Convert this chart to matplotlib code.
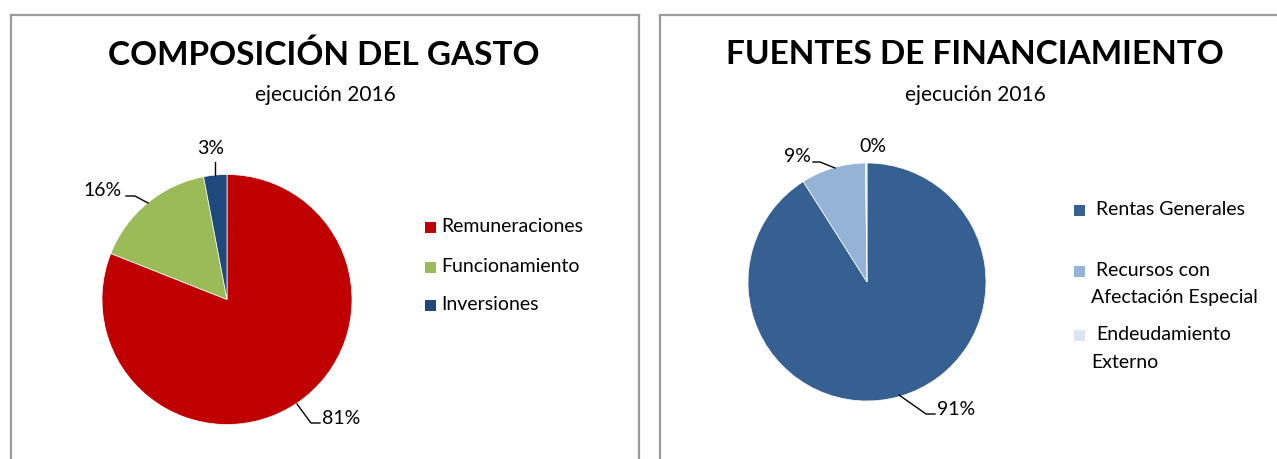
import matplotlib
matplotlib.use("Agg")
import matplotlib.pyplot as plt
from matplotlib.patches import Rectangle
from matplotlib.lines import Line2D

plt.rcParams['font.family'] = ['Lato', 'DejaVu Sans']

# ---- data ----
gasto_labels = ["Remuneraciones", "Funcionamiento", "Inversiones"]
gasto_values = [81, 16, 3]
gasto_colors = ["#C00000", "#9BBB59", "#1F497D"]

fuentes_labels = ["Rentas Generales", "Recursos con\nAfectación Especial", "Endeudamiento\nExterno"]
fuentes_values = [91, 8.8, 0.2]
fuentes_pct = ["91%", "9%", "0%"]
fuentes_colors = ["#376092", "#95B3D7", "#DCE6F2"]

titles = ["COMPOSICIÓN DEL GASTO", "FUENTES DE FINANCIAMIENTO"]
subtitle = "ejecución 2016"

W, H = 1277, 459
fig = plt.figure(figsize=(W / 100, H / 100), dpi=100)


def fx(px):
    return px / W


def fy(py):
    return 1 - py / H


# panel borders
for (x0, x1) in [(10.5, 638.5), (659.5, 1290)]:
    for xs, ys in [([x0, x0], [H + 5, 14.5]), ([x0, x1], [14.5, 14.5]), ([x1, x1], [14.5, H + 5])]:
        fig.add_artist(Line2D([fx(v) for v in xs], [fy(v) for v in ys], color="#9a9a9a", lw=1.6))


def pie_axes(cx, cy, r):
    ax = fig.add_axes([fx(cx - r), fy(cy + r), 2 * r / W, 2 * r / H])
    ax.set_xlim(-1, 1)
    ax.set_ylim(-1, 1)
    ax.set_aspect("auto")
    ax.axis("off")
    return ax


def to_data(px, py, cx, cy, r):
    return (px - cx) / r, (cy - py) / r


LBL = 14

# ---- left pie ----
cx1, cy1, r1 = 227, 299.5, 125
ax1 = pie_axes(cx1, cy1, r1)
ax1.pie(gasto_values, colors=gasto_colors, startangle=90, counterclock=False,
        radius=1, wedgeprops=dict(linewidth=0.5, edgecolor="white"))
ax1.set_xlim(-1, 1)
ax1.set_ylim(-1, 1)

lab1 = [  # (text x, text y, ha, leader points in px)
    (322, 418, "left", [(297, 404), (311, 423), (320, 423)]),
    (122, 190, "right", [(148, 203), (135, 196), (126, 196)]),
    (211, 148, "center", [(215, 175), (215, 162)]),
]
for val, (tx, ty, ha, pts) in zip(gasto_values, lab1):
    xs, ys = zip(*[to_data(px, py, cx1, cy1, r1) for px, py in pts])
    ax1.plot(xs, ys, color="black", lw=1, clip_on=False)
    dx, dy = to_data(tx, ty, cx1, cy1, r1)
    ax1.text(dx, dy, f"{val}%", ha=ha, va="center", fontsize=LBL, clip_on=False)

# ---- right pie ----
cx2, cy2, r2 = 867, 282, 119
ax2 = pie_axes(cx2, cy2, r2)
ax2.pie(fuentes_values, colors=fuentes_colors, startangle=90, counterclock=False,
        radius=1, wedgeprops=dict(linewidth=0.5, edgecolor="white"))
ax2.set_xlim(-1, 1)
ax2.set_ylim(-1, 1)

lab2 = [
    (937, 410, "left", [(899, 395), (926, 414), (935, 414)]),
    (811, 157, "right", [(835, 168), (820, 162), (813, 162)]),
    (873, 146, "center", []),
]
for txt, (tx, ty, ha, pts) in zip(fuentes_pct, lab2):
    if pts:
        xs, ys = zip(*[to_data(px, py, cx2, cy2, r2) for px, py in pts])
        ax2.plot(xs, ys, color="black", lw=1, clip_on=False)
    dx, dy = to_data(tx, ty, cx2, cy2, r2)
    ax2.text(dx, dy, txt, ha=ha, va="center", fontsize=LBL, clip_on=False)

# ---- titles ----
fig.text(fx(324), fy(55), titles[0], ha="center", va="center", fontsize=24, fontweight="bold")
fig.text(fx(325), fy(95), subtitle, ha="center", va="center", fontsize=15)
fig.text(fx(975), fy(55), titles[1], ha="center", va="center", fontsize=24, fontweight="bold")
fig.text(fx(975), fy(95), subtitle, ha="center", va="center", fontsize=15)


# ---- legends ----
def legend(labels, colors, xs, ys, text_x, line_gap=27):
    for lab, col, y in zip(labels, colors, ys):
        fig.add_artist(Rectangle((fx(xs), fy(y + 5.5)), 11 / W, 11 / H, facecolor=col,
                                 edgecolor="none", transform=fig.transFigure))
        lines = lab.split("\n")
        for i, ln in enumerate(lines):
            x = text_x[0] if i == 0 else text_x[1]
            fig.text(fx(x), fy(y + i * line_gap), ln, ha="left", va="center", fontsize=14)


legend(gasto_labels, gasto_colors, 425, [227, 267, 305], (441, 441))
legend(fuentes_labels, fuentes_colors, 1074, [210, 271, 335], (1096, 1091))

fig.savefig("out.png", dpi=100)
